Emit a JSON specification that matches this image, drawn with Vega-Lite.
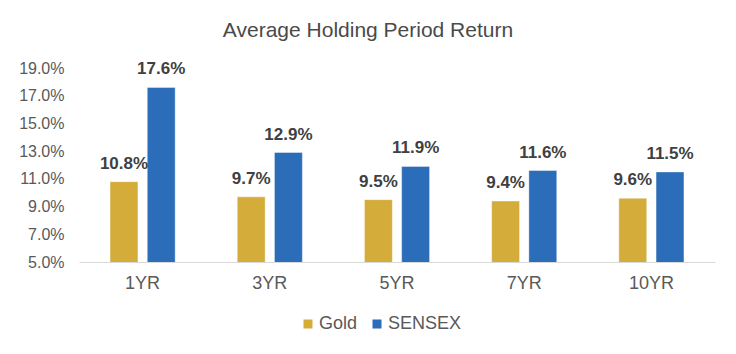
{
  "$schema": "https://vega.github.io/schema/vega-lite/v6.json",
  "width": 636,
  "height": 194,
  "autosize": {"type": "none"},
  "padding": {"left": 79, "top": 68, "right": 21, "bottom": 92},
  "background": "white",
  "title": {
    "text": "Average Holding Period Return",
    "anchor": "middle",
    "dx": -29,
    "offset": 19,
    "font": "Liberation Sans",
    "fontSize": 21,
    "fontWeight": "normal",
    "color": "#4A4A4A"
  },
  "data": {
    "values": [
      {"period": "1YR", "series": "Gold", "value": 0.108},
      {"period": "1YR", "series": "SENSEX", "value": 0.176},
      {"period": "3YR", "series": "Gold", "value": 0.097},
      {"period": "3YR", "series": "SENSEX", "value": 0.129},
      {"period": "5YR", "series": "Gold", "value": 0.095},
      {"period": "5YR", "series": "SENSEX", "value": 0.119},
      {"period": "7YR", "series": "Gold", "value": 0.094},
      {"period": "7YR", "series": "SENSEX", "value": 0.116},
      {"period": "10YR", "series": "Gold", "value": 0.096},
      {"period": "10YR", "series": "SENSEX", "value": 0.115}
    ]
  },
  "encoding": {
    "x": {
      "field": "period",
      "type": "nominal",
      "sort": ["1YR", "3YR", "5YR", "7YR", "10YR"],
      "scale": {"paddingInner": 0.488, "paddingOuter": 0.244},
      "axis": {
        "title": null,
        "labelAngle": 0,
        "labelFont": "Liberation Sans",
        "labelFontSize": 18,
        "labelColor": "#595959",
        "labelPadding": 12,
        "ticks": false,
        "domainColor": "#D9D9D9",
        "domainWidth": 1
      }
    },
    "xOffset": {
      "field": "series",
      "type": "nominal",
      "scale": {"paddingInner": 0.25, "paddingOuter": 0}
    },
    "y": {
      "field": "value",
      "type": "quantitative",
      "scale": {"domain": [0.05, 0.19], "nice": false, "zero": false},
      "axis": {
        "title": null,
        "values": [0.05, 0.07, 0.09, 0.11, 0.13, 0.15, 0.17, 0.19],
        "format": ".1%",
        "grid": false,
        "domain": false,
        "ticks": false,
        "labelFont": "Liberation Sans",
        "labelFontSize": 16,
        "labelColor": "#595959",
        "labelPadding": 15
      }
    },
    "color": {
      "field": "series",
      "type": "nominal",
      "scale": {"domain": ["Gold", "SENSEX"], "range": ["#D4AC3A", "#2B6DB8"]},
      "legend": {
        "title": null,
        "orient": "none",
        "direction": "horizontal",
        "legendX": 220,
        "legendY": 247,
        "symbolType": "square",
        "symbolSize": 81,
        "symbolStrokeWidth": 0,
        "labelFont": "Liberation Sans",
        "labelFontSize": 18,
        "labelColor": "#595959",
        "labelOffset": 2,
        "columnPadding": 10
      }
    }
  },
  "layer": [
    {"mark": {"type": "bar", "clip": true, "stroke": "#FFFFFF", "strokeOpacity": 0.4, "strokeWidth": 1}},
    {
      "mark": {
        "type": "text",
        "baseline": "bottom",
        "dy": -9,
        "font": "Liberation Sans",
        "fontSize": 17,
        "fontWeight": "bold",
        "color": "#404040"
      },
      "encoding": {
        "text": {"field": "value", "type": "quantitative", "format": ".1%"},
        "color": {"value": "#404040"}
      }
    }
  ],
  "config": {"view": {"stroke": null}}
}
